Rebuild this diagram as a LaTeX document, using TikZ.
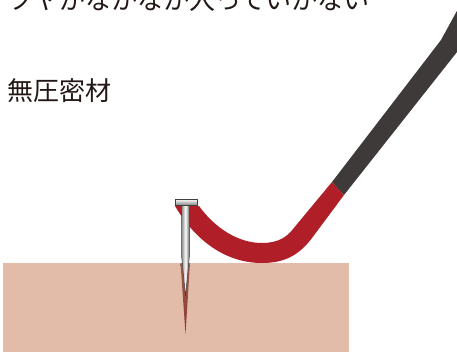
\documentclass[tikz,border=0pt]{standalone}
\usepackage{fontspec}
\newfontfamily\jpfont{Noto Sans CJK JP}
\definecolor{skin}{HTML}{E2BCA8}
\definecolor{tubered}{HTML}{B01F27}
\definecolor{tubedark}{HTML}{3D3A39}
\definecolor{wound}{HTML}{8A3A30}
\definecolor{inktext}{HTML}{231815}
\definecolor{steel}{HTML}{8A8A8A}
\tikzset{
  caption/.style={anchor=base west, inner sep=0pt, text=inktext,
    font=\jpfont\fontsize{26}{30}\selectfont},
  nailpart/.style={draw=black!75, line width=0.5pt, line join=round},
}
\begin{document}
\begin{tikzpicture}[x=1pt, y=-1pt]
\useasboundingbox (0,0) rectangle (457,354);
\clip (0,0) rectangle (457,354);

% captions
\node[caption] (line1) at (7,9) {ツヤがなかなか入っていかない};
\node[caption] (line2) at (7,100) {無圧密材};

% wood surface
\fill[skin] (3,263) rectangle (349,352);

% dark stain where the nail went in
\shade[top color=wound!75!skin, bottom color=wound]
  (180.5,263) -- (190,263) -- (185.5,334) -- cycle;

% bent tube: red lower section
\fill[tubered]
  (175,206) -- (199,206)
  .. controls (215,228) and (238,243) .. (262,243)
  .. controls (278,243) and (287,237) .. (293,229)
  -- (332,182) -- (344,195) -- (312,238)
  .. controls (299,255) and (285,263) .. (262,263)
  .. controls (225,263) and (195,240) .. (175,206) -- cycle;

% bent tube: dark upper section
\fill[tubedark]
  (332,182) -- (441,40) -- (464,-2) -- (480,-2) -- (480,20)
  -- (457,52) -- (344,195) -- cycle;

% nail shaft
\shade[left color=steel, right color=steel!70!black, middle color=white, nailpart]
  (181.5,205) -- (189.5,205) -- (189.5,255) -- (185.5,296) -- (181.5,255) -- cycle;
% nail head
\shade[top color=white, bottom color=steel, nailpart]
  (175,199) rectangle (197,205);
\end{tikzpicture}
\end{document}
